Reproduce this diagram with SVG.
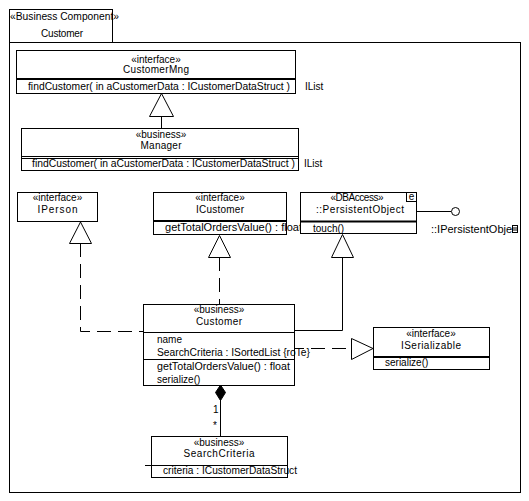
<svg xmlns="http://www.w3.org/2000/svg" width="529" height="501" viewBox="0 0 529 501">
<style>
text{font-family:"Liberation Sans",Arial,sans-serif;font-size:10px;fill:#000}
.c{text-anchor:middle}
.box{fill:#fff;stroke:#000;stroke-width:1}
.ln{stroke:#000;stroke-width:1;fill:none}
.th{stroke:#000;stroke-width:2;fill:none}
.dash{stroke:#000;stroke-width:1;fill:none;stroke-dasharray:14 7}
.tri{fill:#fff;stroke:#000;stroke-width:1}
</style>
<rect x="0" y="0" width="529" height="501" fill="#fff"/>
<g id="package">
<rect class="box" x="9.5" y="9.5" width="103" height="33"/>
<rect class="box" x="9.5" y="42.5" width="511" height="450"/>
<text x="10" y="20" textLength="109" lengthAdjust="spacingAndGlyphs">«Business Component»</text>
<text class="c" x="62" y="37" textLength="42">Customer</text>
</g>
<g id="connectors">
<line class="ln" x1="161.5" y1="116" x2="161.5" y2="128"/>
<polygon class="tri" points="161.5,93.5 149.5,116.5 173.5,116.5"/>
<polyline class="dash" points="80.5,243 80.5,331.5 143,331.5"/>
<polygon class="tri" points="80.5,222 69.5,243.5 91.5,243.5"/>
<line class="dash" x1="219.5" y1="257" x2="219.5" y2="304"/>
<polygon class="tri" points="219.5,235.5 208.5,257.5 230.5,257.5"/>
<polyline class="ln" points="342.5,257 342.5,330.5 294,330.5"/>
<polygon class="tri" points="342.5,234.5 331.5,257.5 353.5,257.5"/>
<line class="ln" x1="416" y1="211.5" x2="451" y2="211.5"/>
<circle class="box" cx="455.5" cy="211.5" r="4"/>
<line class="dash" x1="294" y1="348.5" x2="351" y2="348.5" stroke-dasharray="14 7" stroke-dashoffset="4"/>
<polygon class="tri" points="351.5,338.5 351.5,359.5 373,348.5"/>
<line class="ln" x1="220.5" y1="400" x2="220.5" y2="436"/>
<polygon points="220.5,385 225.5,392.5 220.5,400.5 215.5,392.5" fill="#000" stroke="#000" stroke-width="1"/>
<text x="213" y="413">1</text>
<text x="213" y="429">*</text>
</g>
<g id="CustomerMng">
<rect class="box" x="16.5" y="50.5" width="279" height="43"/>
<line class="th" x1="17" y1="79" x2="295" y2="79" stroke-width="2.5"/>
<text class="c" x="156" y="63">«interface»</text>
<text class="c" x="156" y="73" textLength="66">CustomerMng</text>
<text x="28" y="90" textLength="262" lengthAdjust="spacingAndGlyphs">findCustomer( in aCustomerData : ICustomerDataStruct )</text>
<text x="305" y="90">IList</text>
</g>
<g id="Manager">
<rect class="box" x="21.5" y="128.5" width="277" height="42"/>
<line class="ln" x1="22" y1="156.5" x2="298" y2="156.5"/>
<line class="ln" x1="22" y1="158.5" x2="298" y2="158.5"/>
<text class="c" x="161" y="138">«business»</text>
<text class="c" x="161" y="149" textLength="41">Manager</text>
<text x="32" y="167" textLength="263" lengthAdjust="spacingAndGlyphs">findCustomer( in aCustomerData : ICustomerDataStruct )</text>
<text x="304" y="167">IList</text>
</g>
<g id="IPerson">
<rect class="box" x="17.5" y="192.5" width="80" height="29"/>
<text class="c" x="57.5" y="201">«interface»</text>
<text class="c" x="57.5" y="213" textLength="40">IPerson</text>
</g>
<g id="ICustomer">
<rect class="box" x="153.5" y="192.5" width="133" height="42"/>
<line class="th" x1="154" y1="221" x2="286" y2="221"/>
<text class="c" x="220" y="201">«interface»</text>
<text class="c" x="220" y="213" textLength="48">ICustomer</text>
<text x="165" y="231" textLength="137" lengthAdjust="spacingAndGlyphs">getTotalOrdersValue() : float</text>
</g>
<g id="PersistentObject">
<rect class="box" x="300.5" y="192.5" width="116" height="41"/>
<line class="th" x1="301" y1="221.5" x2="416" y2="221.5"/>
<rect x="406.5" y="192.5" width="10" height="9" fill="#fff" stroke="#000" stroke-width="1"/>
<text class="c" x="411.5" y="200" font-size="9">e</text>
<text class="c" x="357" y="201" textLength="53">«DBAccess»</text>
<text class="c" x="360" y="213" textLength="88">::PersistentObject</text>
<text x="313" y="232">touch()</text>
</g>
<g id="IPersistentObject">
<text x="431" y="233" textLength="81" lengthAdjust="spacingAndGlyphs">::IPersistentObje</text>
<rect x="512.5" y="225.5" width="5" height="7" fill="#fff" stroke="#000" stroke-width="1"/>
<line class="ln" x1="513" y1="228" x2="517" y2="228"/>
<line class="ln" x1="513" y1="230" x2="517" y2="230"/>
</g>
<g id="Customer">
<rect class="box" x="143.5" y="304.5" width="151" height="81"/>
<line class="ln" x1="144" y1="332.5" x2="294" y2="332.5"/>
<line class="ln" x1="144" y1="359.5" x2="294" y2="359.5"/>
<text class="c" x="219" y="313">«business»</text>
<text class="c" x="219" y="325" textLength="46">Customer</text>
<text x="157" y="343">name</text>
<text x="157" y="356" textLength="153" lengthAdjust="spacingAndGlyphs">SearchCriteria : ISortedList {roTe}</text>
<text x="157" y="370" textLength="133" lengthAdjust="spacingAndGlyphs">getTotalOrdersValue() : float</text>
<text x="157" y="383">serialize()</text>
</g>
<g id="ISerializable">
<rect class="box" x="373.5" y="327.5" width="116" height="42"/>
<line class="th" x1="374" y1="357" x2="489" y2="357"/>
<text class="c" x="431" y="337">«interface»</text>
<text class="c" x="431" y="349" textLength="60">ISerializable</text>
<text x="385" y="366">serialize()</text>
</g>
<g id="SearchCriteria">
<rect class="box" x="151.5" y="436.5" width="136" height="41"/>
<line class="ln" x1="145" y1="465.5" x2="287" y2="465.5"/>
<text class="c" x="219" y="446">«business»</text>
<text class="c" x="219" y="457" textLength="71">SearchCriteria</text>
<text x="163" y="474" textLength="134" lengthAdjust="spacingAndGlyphs">criteria : ICustomerDataStruct</text>
</g>
</svg>
